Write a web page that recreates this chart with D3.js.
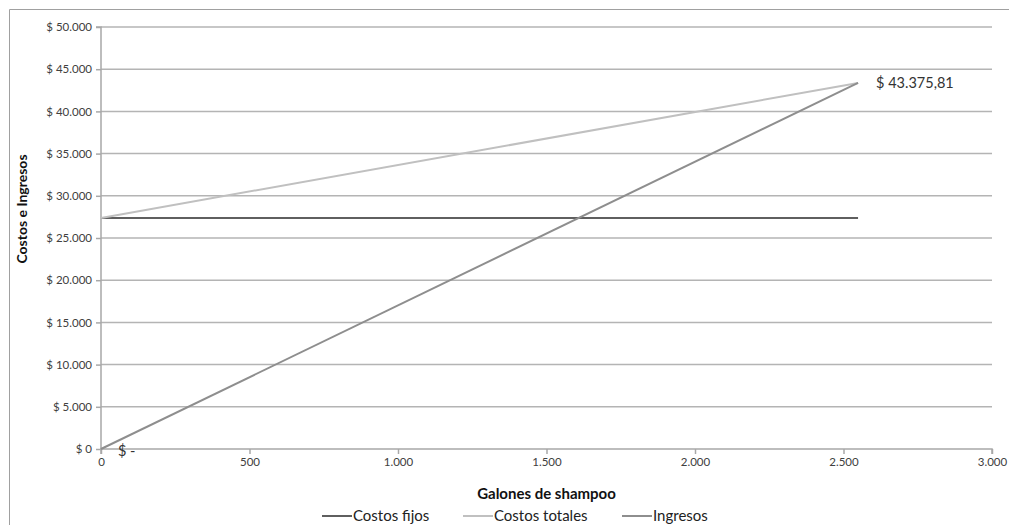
<!DOCTYPE html>
<html><head><meta charset="utf-8">
<script src="https://cdn.jsdelivr.net/npm/d3@7"></script>
<style>body{margin:0;background:#fff}svg{display:block}</style>
</head><body><svg id="c" width="1009" height="525"></svg>
<script>
const galones = [0, 2549];
const costosFijos = [27370, 27370];
const costosTotales = [27370, 43375.81];
const ingresos = [0, 43375.81];
const yTicks = [0,5000,10000,15000,20000,25000,30000,35000,40000,45000,50000];
const yTickLabels = ["$ 0","$ 5.000","$ 10.000","$ 15.000","$ 20.000","$ 25.000","$ 30.000","$ 35.000","$ 40.000","$ 45.000","$ 50.000"];
const xTicks = [0,500,1000,1500,2000,2500,3000];
const xTickLabels = ["0","500","1.000","1.500","2.000","2.500","3.000"];
const seriesNames = ["Costos fijos","Costos totales","Ingresos"];
const seriesColors = ["#5f5f5f","#c0c0c0","#8e8e8e"];
const breakEvenLabel = "$ 43.375,81";
const zeroLabel = "$ -";

const svg = d3.select("#c");
const font = "Lato, 'Open Sans', sans-serif";
// outer border
svg.append("path").attr("d","M9.5,525 V9.5 H1009").attr("fill","none").attr("stroke","#a0a0a0").attr("stroke-width",1);

const x = d3.scaleLinear().domain([0,3000]).range([101,992]);
const y = d3.scaleLinear().domain([0,50000]).range([449,27]);

// gridlines
svg.append("g").selectAll("line").data(yTicks.filter(d=>d>0)).join("line")
  .attr("x1",x(0)).attr("x2",x(3000)).attr("y1",d=>y(d)).attr("y2",d=>y(d))
  .attr("stroke","#b4b4b4").attr("stroke-width",1.5);

// y axis
const ya = svg.append("g").attr("transform",`translate(${x(0)},0)`)
  .call(d3.axisLeft(y).tickValues(yTicks).tickFormat((d,i)=>yTickLabels[i]).tickSize(5).tickPadding(4));
ya.select(".domain").attr("stroke","#a8a8a8").attr("stroke-width",1.5).attr("d",`M-5,${y(50000)}H0V${y(0)}`);
ya.selectAll(".tick line").attr("stroke","#a8a8a8").attr("stroke-width",1.5);
ya.selectAll("text").attr("font-family",font).attr("font-size",11.5).attr("fill","#404040");

// x axis
const xa = svg.append("g").attr("transform",`translate(0,${y(0)})`)
  .call(d3.axisBottom(x).tickValues(xTicks).tickFormat((d,i)=>xTickLabels[i]).tickSize(5).tickPadding(4));
xa.select(".domain").attr("stroke","#a8a8a8").attr("stroke-width",1.5).attr("d",`M${x(0)},5V0H${x(3000)}V5`);
xa.selectAll(".tick line").attr("stroke","#a8a8a8").attr("stroke-width",1.5);
xa.selectAll("text").attr("font-family",font).attr("font-size",11.5).attr("fill","#404040");

// lines
const allSeries = [costosFijos,costosTotales,ingresos];
const line = d3.line().x((d,i)=>x(galones[i])).y(d=>y(d));
allSeries.forEach((s,k)=>{
  svg.append("path").datum(s).attr("d",line).attr("fill","none")
    .attr("stroke",seriesColors[k]).attr("stroke-width",2);
});

// data labels
svg.append("text").attr("x",x(galones[1])+18).attr("y",y(ingresos[1])+5)
  .attr("font-family",font).attr("font-size",14.5).attr("fill","#333").text(breakEvenLabel);
svg.append("text").attr("x",x(0)+17).attr("y",y(0)+7)
  .attr("font-family",font).attr("font-size",14.5).attr("fill","#333").text(zeroLabel);

// axis titles
svg.append("text").attr("transform",`translate(27,209) rotate(-90)`)
  .attr("text-anchor","middle").attr("font-family",font).attr("font-weight","bold")
  .attr("font-size",14).attr("fill","#111").text("Costos e Ingresos");
svg.append("text").attr("x",(x(0)+x(3000))/2).attr("y",499).attr("text-anchor","middle")
  .attr("font-family",font).attr("font-weight","bold").attr("font-size",15).attr("fill","#111").text("Galones de shampoo");

// legend
const legX = [322,463,622];
seriesNames.forEach((n,k)=>{
  svg.append("line").attr("x1",legX[k]).attr("x2",legX[k]+30).attr("y1",516).attr("y2",516)
    .attr("stroke",seriesColors[k]).attr("stroke-width",2);
  svg.append("text").attr("x",legX[k]+31).attr("y",521).attr("font-family",font)
    .attr("font-size",15).attr("fill","#222").text(n);
});
</script></body></html>
